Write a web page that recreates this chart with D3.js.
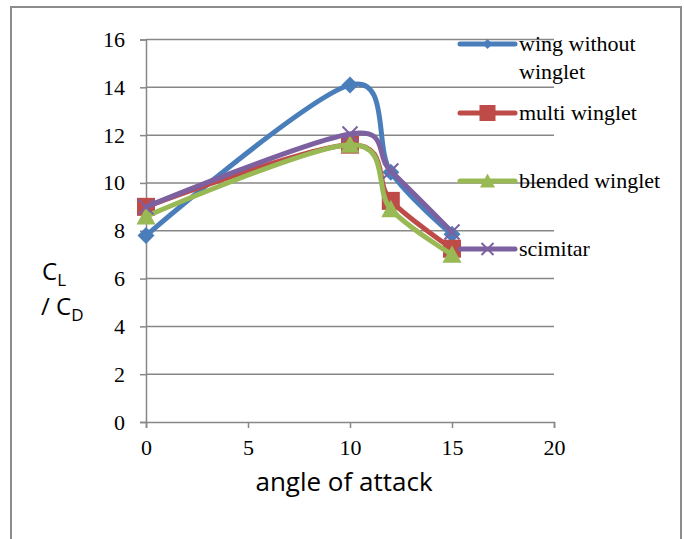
<!DOCTYPE html>
<html>
<head>
  <meta charset="utf-8">
  <title>CL/CD vs angle of attack</title>
  <script src="https://d3js.org/d3.v7.min.js"></script>
  <style>
    body { margin: 0; background: #fff; }
  </style>
</head>
<body>
  <svg id="chart"></svg>
  <script>

    // Data
    const angles = [0, 10, 12, 15];
    const seriesNames = ["wing without winglet", "multi winglet", "blended winglet", "scimitar"];
    const wingWithout = [7.8, 14.1, 10.45, 7.85];
    const multiWinglet = [9.0, 11.6, 9.25, 7.25];
    const blendedWinglet = [8.6, 11.6, 8.9, 7.0];
    const scimitar = [9.0, 12.05, 10.5, 7.95];
    const xTicks = [0, 5, 10, 15, 20];
    const yTicks = [0, 2, 4, 6, 8, 10, 12, 14, 16];

    const colors = ["#4a7ebb", "#be4b48", "#98b954", "#7d60a0"];
    const markers = ["diamond", "square", "triangle", "cross"];
    const allValues = [wingWithout, multiWinglet, blendedWinglet, scimitar];

    const width = 684, height = 539;

    const svg = d3.select("#chart")
      .attr("width", width)
      .attr("height", height);

    // outer frame
    svg.append("rect")
      .attr("x", 11).attr("y", 7)
      .attr("width", 670).attr("height", 600)
      .attr("fill", "none")
      .attr("stroke", "#8c8c8c")
      .attr("stroke-width", 2);

    const x = d3.scaleLinear().domain([0, 20]).range([146, 554]);
    const y = d3.scaleLinear().domain([0, 16]).range([422, 39.5]);

    const axisColor = "#878787";

    // gridlines
    svg.append("g")
      .selectAll("line")
      .data(yTicks.filter(d => d > 0))
      .join("line")
      .attr("x1", x(0)).attr("x2", x(20))
      .attr("y1", d => y(d)).attr("y2", d => y(d))
      .attr("stroke", axisColor)
      .attr("stroke-width", 1.5);

    // y axis
    const yAxis = svg.append("g")
      .attr("transform", `translate(${x(0)},0)`)
      .call(d3.axisLeft(y).tickValues(yTicks).tickSize(6).tickPadding(15));
    // x axis
    const xAxis = svg.append("g")
      .attr("transform", `translate(0,${y(0)})`)
      .call(d3.axisBottom(x).tickValues(xTicks).tickSize(6).tickPadding(11));

    [xAxis, yAxis].forEach(function(g) {
      g.select(".domain").attr("stroke", axisColor).attr("stroke-width", 1.5);
      g.selectAll(".tick line").attr("stroke", axisColor).attr("stroke-width", 1.5);
      g.selectAll(".tick text")
        .attr("fill", "#000")
        .style("font-family", "'Liberation Serif', 'Times New Roman', serif")
        .style("font-size", "22px");
    });

    // axis titles
    svg.append("text")
      .attr("x", 344).attr("y", 491)
      .attr("text-anchor", "middle")
      .style("font-family", "'Open Sans', Lato, sans-serif")
      .style("font-size", "26px")
      .text("angle of attack");

    const yTitle = svg.append("text")
      .style("font-family", "'Open Sans', Lato, sans-serif")
      .style("font-size", "24px")
      .attr("fill", "#000");
    yTitle.append("tspan").attr("x", 42).attr("y", 280).text("C");
    yTitle.append("tspan").attr("dy", 6).style("font-size", "17px").text("L");
    yTitle.append("tspan").attr("x", 41).attr("y", 315).text("/ C");
    yTitle.append("tspan").attr("dy", 6).style("font-size", "17px").text("D");

    // marker drawing
    function drawMarker(g, type, color, cx, cy, s) {
      if (type === "diamond") {
        g.append("path")
          .attr("d", `M${cx},${cy - s}L${cx + s},${cy}L${cx},${cy + s}L${cx - s},${cy}Z`)
          .attr("fill", color);
      } else if (type === "square") {
        g.append("rect")
          .attr("x", cx - s).attr("y", cy - s)
          .attr("width", 2 * s).attr("height", 2 * s)
          .attr("fill", color);
      } else if (type === "triangle") {
        g.append("path")
          .attr("d", `M${cx},${cy - s}L${cx + s},${cy + s * 0.85}L${cx - s},${cy + s * 0.85}Z`)
          .attr("fill", color);
      } else {
        g.append("path")
          .attr("d", `M${cx - s},${cy - s}L${cx + s},${cy + s}M${cx - s},${cy + s}L${cx + s},${cy - s}`)
          .attr("stroke", color)
          .attr("stroke-width", 2)
          .attr("fill", "none");
      }
    }

    const markerSize = [8.5, 9, 9.5, 7.5];

    const line = d3.line()
      .x(d => x(d[0]))
      .y(d => y(d[1]))
      .curve(d3.curveCardinal.tension(0));

    allValues.forEach(function(vals, i) {
      const pts = angles.map((a, j) => [a, vals[j]]);
      const g = svg.append("g");
      g.append("path")
        .datum(pts)
        .attr("d", line)
        .attr("fill", "none")
        .attr("stroke", colors[i])
        .attr("stroke-width", 5)
        .attr("stroke-linejoin", "round")
        .attr("stroke-linecap", "round");
      pts.forEach(p => drawMarker(g, markers[i], colors[i], x(p[0]), y(p[1]), markerSize[i]));
    });

    // legend
    const legendY = [44, 113, 181, 249];
    const legendMarkerSize = [5, 8, 7.5, 6];
    const legend = svg.append("g");
    seriesNames.forEach(function(name, i) {
      const g = legend.append("g");
      g.append("line")
        .attr("x1", 460).attr("x2", 515)
        .attr("y1", legendY[i]).attr("y2", legendY[i])
        .attr("stroke", colors[i])
        .attr("stroke-width", 5)
        .attr("stroke-linecap", "round");
      drawMarker(g, markers[i], colors[i], 487.5, legendY[i], legendMarkerSize[i]);
      const t = g.append("text")
        .attr("x", 519)
        .style("font-family", "'Liberation Serif', 'Times New Roman', serif")
        .style("font-size", "22px")
        .attr("fill", "#000");
      if (i === 0) {
        t.append("tspan").attr("x", 519).attr("y", legendY[i] + 7).text("wing without");
        t.append("tspan").attr("x", 519).attr("y", legendY[i] + 35).text("winglet");
      } else {
        t.attr("y", legendY[i] + 7).text(name);
      }
    });

  </script>
</body>
</html>
